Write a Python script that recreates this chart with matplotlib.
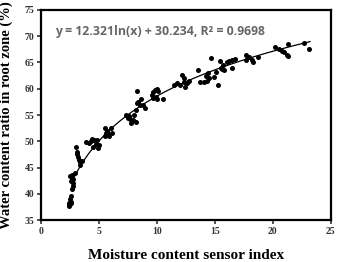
import numpy as np
import matplotlib.pyplot as plt

# sensor index vs water content ratio
sensor_x = [2.4, 2.5, 2.45, 2.6, 2.5, 2.55, 2.4, 2.6,
            2.7, 2.8, 2.75, 2.6, 2.7, 2.5, 2.65, 2.8, 2.9,
            3.0, 3.1, 3.1, 3.2, 3.3, 3.4, 3.4, 3.5,
            3.9, 4.1, 4.4, 4.6, 4.8, 4.5, 4.7, 5.0, 4.9, 4.3,
            5.5, 5.6, 5.7, 5.8, 6.0, 5.9, 6.1, 5.5,
            7.3, 7.5, 7.6, 7.7, 7.8, 7.9, 8.0, 8.2, 8.2,
            8.3, 8.4, 8.5, 8.6, 8.3, 8.8, 9.0,
            9.6, 9.7, 9.8, 9.9, 10.0, 10.1, 10.0, 10.5, 9.7,
            11.5, 11.7, 12.0, 12.2, 12.3, 12.4, 12.6, 12.8, 12.3,
            13.5, 13.7, 14.1, 14.2, 14.4, 14.5, 14.7, 14.9, 14.3, 15.1,
            15.3, 15.4, 15.5, 15.7, 15.8, 16.0, 16.2, 16.5, 16.5, 16.7, 15.6,
            17.7, 17.7, 17.9, 18.2, 18.3, 18.7,
            20.2, 20.5, 20.8, 21.0, 21.3, 21.2, 21.3,
            22.7, 23.1]
water_ratio = [37.7, 38.0, 38.3, 38.5, 39.0, 39.5, 37.9, 38.2,
               41.0, 41.5, 42.0, 42.5, 43.0, 43.3, 43.6, 42.8, 44.0,
               49.0, 48.0, 47.5, 47.0, 46.5, 46.0, 45.5, 46.3,
               49.8, 49.7, 50.5, 50.2, 50.3, 49.0, 49.5, 49.2, 48.8, 50.0,
               52.5, 51.5, 52.0, 51.3, 52.5, 51.0, 51.5, 51.0,
               55.0, 54.5, 54.8, 54.2, 53.5, 54.0, 55.0, 53.6, 56.0,
               59.5, 57.5, 57.0, 58.0, 57.3, 57.0, 56.3,
               58.8, 59.3, 59.8, 58.5, 60.0, 59.5, 58.0, 58.1, 58.3,
               60.8, 61.0, 60.7, 62.7, 62.0, 60.3, 61.0, 61.5, 61.3,
               63.6, 61.3, 61.2, 62.5, 63.0, 62.0, 65.8, 62.2, 61.5, 63.2,
               60.7, 65.2, 64.0, 64.5, 63.5, 65.0, 65.3, 64.0, 65.5, 65.6, 63.8,
               66.5, 65.5, 66.0, 65.5, 65.0, 66.0,
               68.0, 67.5, 67.2, 67.0, 68.5, 66.5, 66.2,
               68.7, 67.5]

# trend: y = 12.321 ln(x) + 30.234
coef_a = 12.321
coef_b = 30.234

plt.rcParams['font.family'] = ['Liberation Serif', 'DejaVu Serif']

fig = plt.figure(figsize=(3.39, 2.62), dpi=100)
ax = fig.add_axes([0.121, 0.160, 0.855, 0.802])

ax.scatter(sensor_x, water_ratio, s=13, color='black', zorder=3, linewidths=0)

xx = np.linspace(2.9, 23.2, 200)
ax.plot(xx, coef_a * np.log(xx) + coef_b, color='black', lw=0.9)

ax.set_xlim(0, 25)
ax.set_ylim(35, 75)
ax.set_xticks([0, 5, 10, 15, 20, 25])
ax.set_yticks(range(35, 80, 5))
ax.tick_params(direction='out', length=3, width=1.2, labelsize=7, pad=2,
               colors='#333333')
for lab in ax.get_xticklabels() + ax.get_yticklabels():
    lab.set_fontweight('bold')
for sp in ax.spines.values():
    sp.set_linewidth(1.6)

ax.set_xlabel('Moisture content sensor index', fontsize=11, fontweight='bold', labelpad=9)
ax.set_ylabel('Water content ratio in root zone (%)', fontsize=10.5, fontweight='bold', labelpad=8)

ax.text(0.05, 0.88, 'y = 12.321ln(x) + 30.234, R\u00b2 = 0.9698', transform=ax.transAxes,
        fontsize=8.8, fontweight='bold', color='#666666', family=['Open Sans', 'DejaVu Sans'])

fig.savefig('out.png', dpi=100)
